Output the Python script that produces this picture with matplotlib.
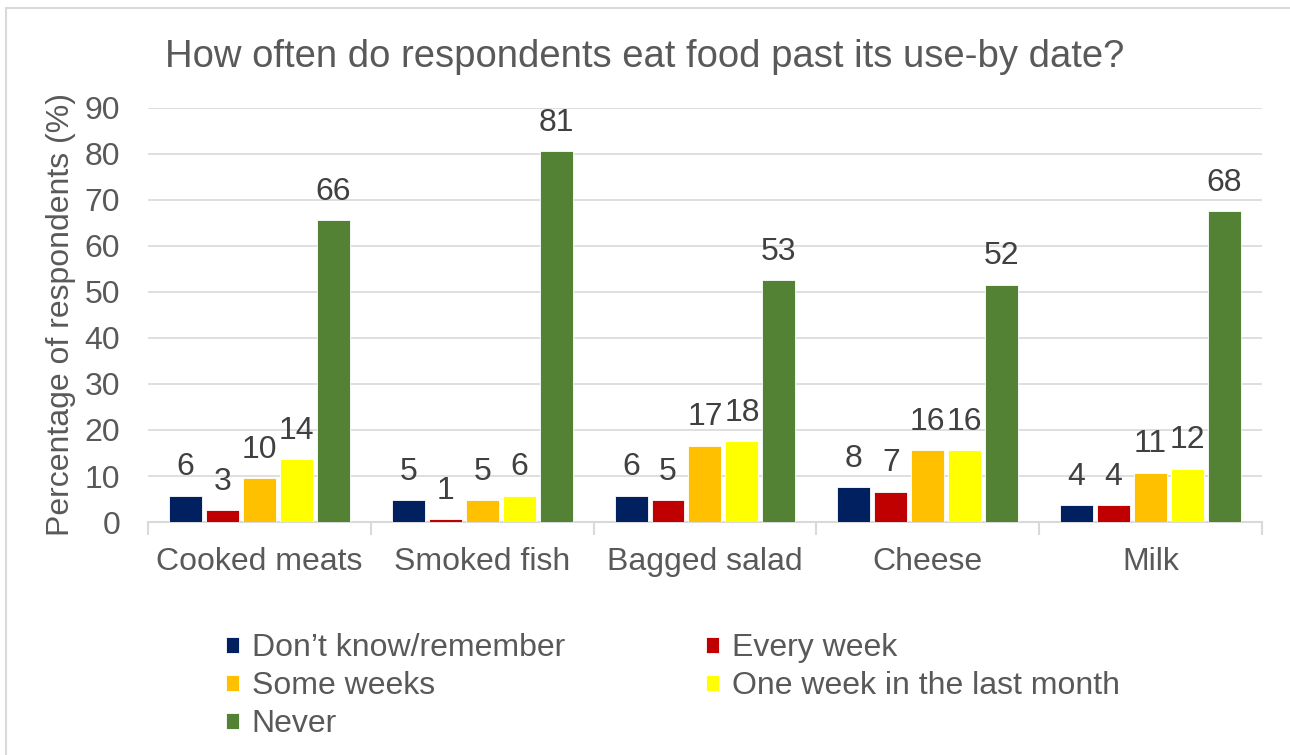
import matplotlib.pyplot as plt
import numpy as np
from matplotlib.patches import Rectangle

foods = ["Cooked meats", "Smoked fish", "Bagged salad", "Cheese", "Milk"]
responses = ["Don\u2019t know/remember", "Every week", "Some weeks",
             "One week in the last month", "Never"]

dont_know = [5.7, 4.8, 5.7, 7.6, 3.7]
every_week = [2.6, 0.6, 4.8, 6.6, 3.7]
some_weeks = [9.6, 4.8, 16.6, 15.6, 10.7]
one_week = [13.6, 5.7, 17.6, 15.6, 11.6]
never = [65.6, 80.6, 52.6, 51.6, 67.6]

series = [dont_know, every_week, some_weeks, one_week, never]
colours = ["#002060", "#C00000", "#FFC000", "#FFFF00", "#548235"]

text_grey = "#595959"
line_grey = "#D9D9D9"
fs = 23

plt.rcParams["font.family"] = ["Liberation Sans", "DejaVu Sans"]

fig = plt.figure(figsize=(12.9, 7.55), dpi=100)
ax = fig.add_axes([0.1147, 0.3086, 0.8636, 0.5484])

# chart border
fig.patches.append(Rectangle((6 / 1290, -0.02), 1.05, 1 - 8 / 755 + 0.02,
                             transform=fig.transFigure, fill=False,
                             edgecolor=line_grey, linewidth=1.5))

x = np.arange(len(foods))
width = 0.148
step = 0.166
handles = []
for i, (vals, col) in enumerate(zip(series, colours)):
    pos = x + (i - 2) * step
    bars = ax.bar(pos, vals, width, color=col, edgecolor="white",
                  linewidth=0.6, label=responses[i], zorder=3)
    handles.append(bars)
    for p, v in zip(pos, vals):
        ax.text(p, v + 2.9, f"{v:.0f}", ha="center", va="bottom",
                fontsize=fs, color="#404040")

ax.set_xlim(-0.5, len(foods) - 0.5)
ax.set_ylim(0, 90)
ax.set_yticks(range(0, 91, 10))
ax.yaxis.grid(True, color=line_grey, linewidth=1.2, zorder=0)
ax.set_axisbelow(True)

for s in ["top", "right", "left"]:
    ax.spines[s].set_visible(False)
ax.spines["bottom"].set_color(line_grey)
ax.spines["bottom"].set_linewidth(1.5)

ax.set_xticks(x)
ax.set_xticklabels(foods, fontsize=fs, color=text_grey)
ax.tick_params(axis="x", which="major", length=0, pad=18)
ax.set_xticks(np.arange(-0.5, len(foods), 1), minor=True)
ax.tick_params(axis="x", which="minor", length=9, width=1.5, color=line_grey)
ax.tick_params(axis="y", length=0, labelsize=fs, labelcolor=text_grey, pad=20)

ax.set_ylabel("Percentage of respondents (%)", fontsize=fs, color=text_grey,
              labelpad=6)
fig.text(0.5, 0.925, "How often do respondents eat food past its use-by date?",
         ha="center", va="center", fontsize=27.5, color=text_grey)

order = [0, 2, 4, 1, 3]
leg = fig.legend([handles[i] for i in order], [responses[i] for i in order],
                 loc="upper left", bbox_to_anchor=(0.158, 0.191), ncol=2,
                 frameon=False, fontsize=fs, handlelength=0.4,
                 handleheight=0.4, handletextpad=0.4, columnspacing=4.42,
                 labelspacing=0.25, labelcolor=text_grey, borderpad=0.2)

fig.savefig("out.png", dpi=100)
